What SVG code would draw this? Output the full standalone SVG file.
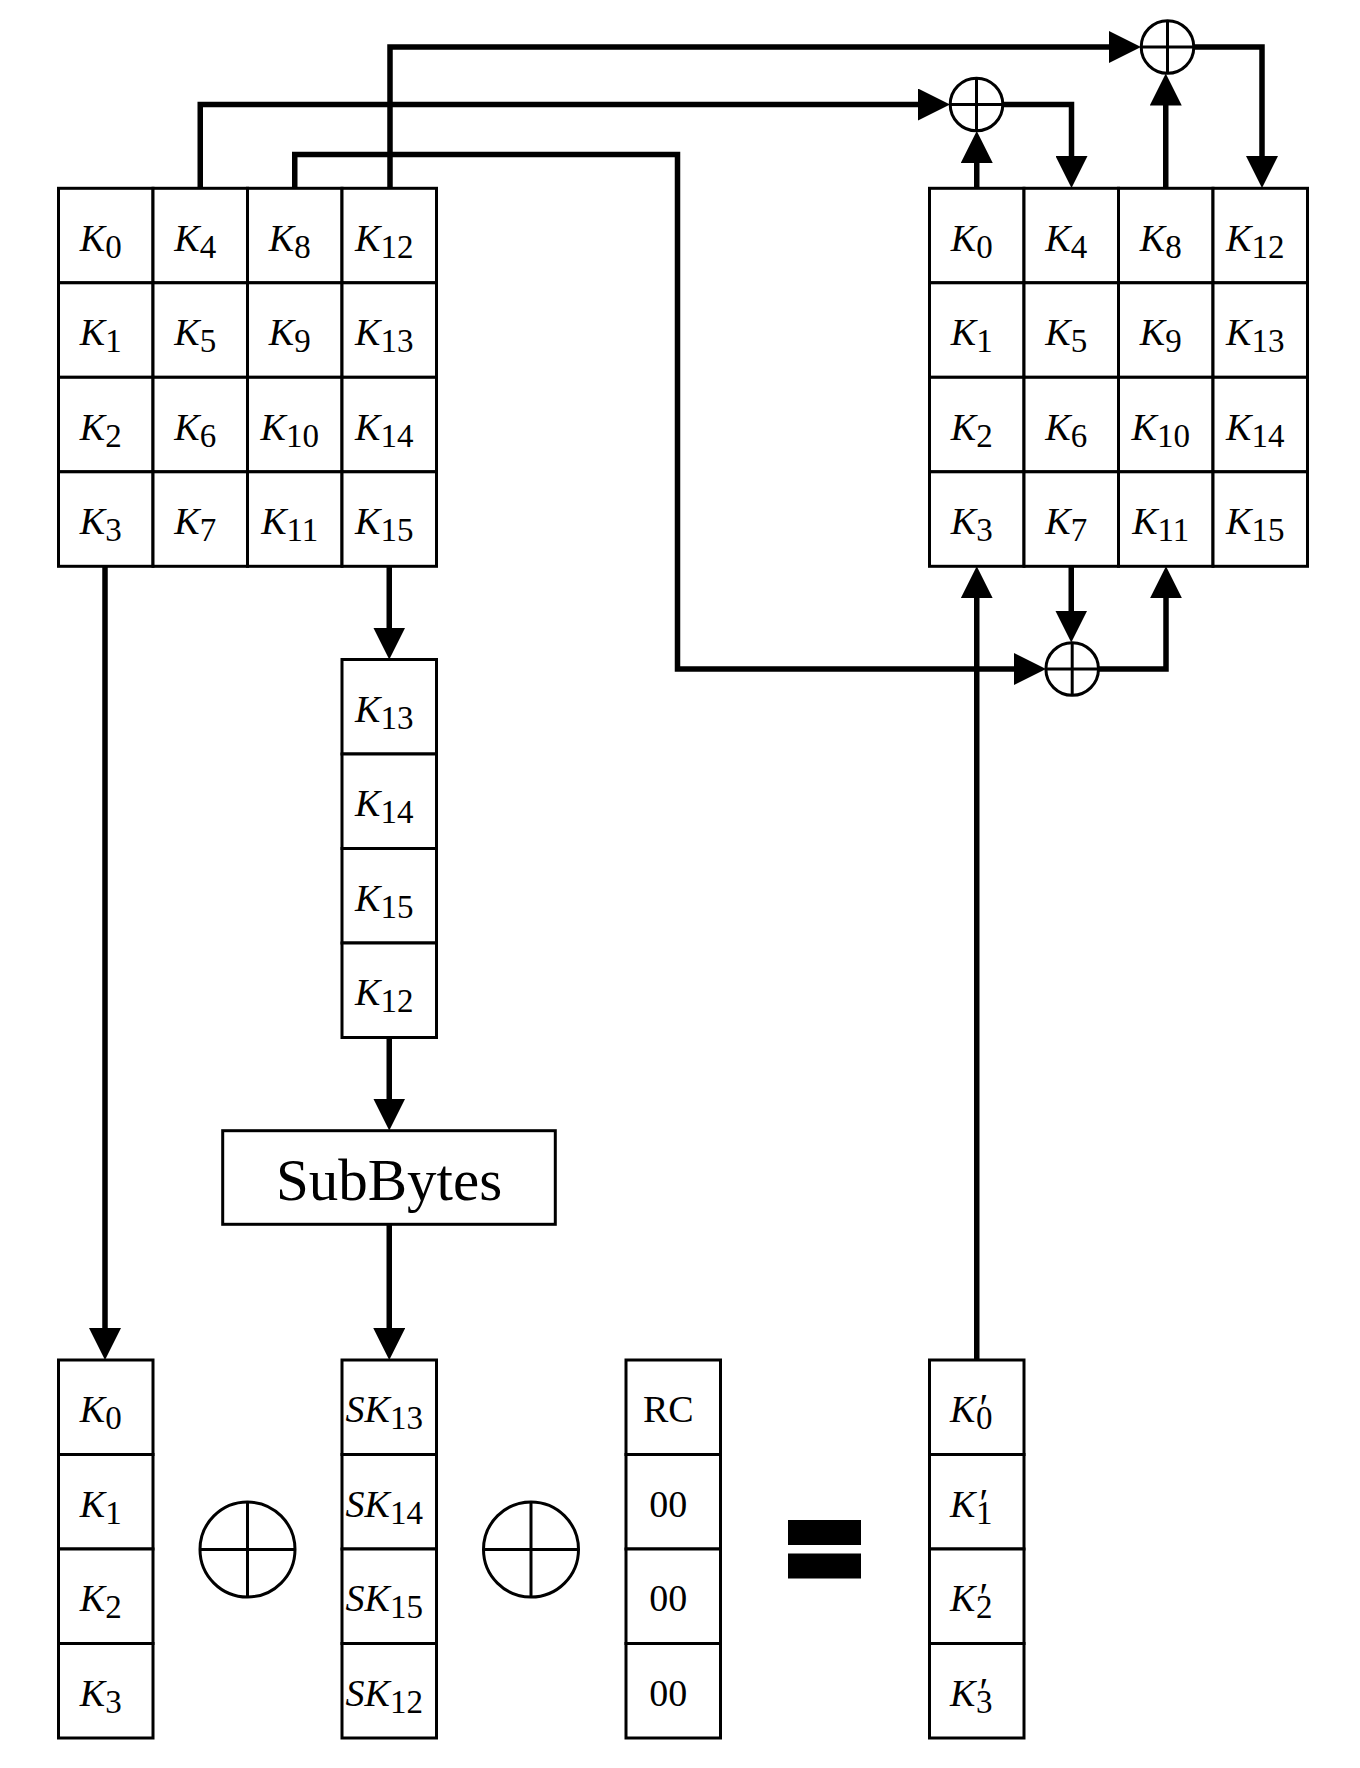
<svg xmlns="http://www.w3.org/2000/svg" width="1360" height="1768" viewBox="0 0 1360 1768">
<style>
.cell{fill:#fff;stroke:#000;stroke-width:3}
.k{font-family:"Liberation Serif","DejaVu Serif",serif;font-size:38px;font-style:italic;fill:#000}
.sub{font-size:33px;font-style:normal}
.pr{font-size:40px;font-style:italic}
.up{font-family:"Liberation Serif","DejaVu Serif",serif;font-size:38px;fill:#000}
.conn{fill:none;stroke:#000;stroke-width:5.5;stroke-linejoin:miter}
.xor{fill:#fff;stroke:#000;stroke-width:3}
.xl{stroke:#000;stroke-width:3}
</style>
<defs>
<marker id="ah" markerUnits="userSpaceOnUse" markerWidth="32" markerHeight="32" viewBox="0 0 32 32" refX="22" refY="16" orient="auto">
<path d="M0,0 L32,16 L0,32 z" fill="#000"/>
</marker>
</defs>
<rect width="1360" height="1768" fill="#fff"/>

<g id="connectors">
<path class="conn" marker-end="url(#ah)" d="M200.25,188.3 V104.5 H940"/>
<path class="conn" marker-end="url(#ah)" d="M390,188.3 V47 H1131"/>
<path class="conn" marker-end="url(#ah)" d="M294.75,188.3 V154.5 H677.5 V669 H1036"/>
<path class="conn" marker-end="url(#ah)" d="M976.75,188.3 V141"/>
<path class="conn" marker-end="url(#ah)" d="M1003,104.5 H1071.5 V178"/>
<path class="conn" marker-end="url(#ah)" d="M1165.75,188.3 V83.5"/>
<path class="conn" marker-end="url(#ah)" d="M1194,47 H1262 V178"/>
<path class="conn" marker-end="url(#ah)" d="M1071.25,566.3 V632.5"/>
<path class="conn" marker-end="url(#ah)" d="M1098.5,669 H1166 V576.3"/>
<path class="conn" marker-end="url(#ah)" d="M976.75,1360 V576.3"/>
<path class="conn" marker-end="url(#ah)" d="M105,566.3 V1350"/>
<path class="conn" marker-end="url(#ah)" d="M389.25,566.3 V649.5"/>
<path class="conn" marker-end="url(#ah)" d="M389.25,1037.5 V1120.5"/>
<path class="conn" marker-end="url(#ah)" d="M389.25,1224 V1350"/>
</g>

<g id="xor-top-1">
<circle class="xor" cx="976.5" cy="104.5" r="26.3"/>
<line class="xl" x1="950.2" y1="104.5" x2="1002.8" y2="104.5"/>
<line class="xl" x1="976.5" y1="78.2" x2="976.5" y2="130.8"/>
</g>
<g id="xor-top-2">
<circle class="xor" cx="1167.5" cy="47" r="26.3"/>
<line class="xl" x1="1141.2" y1="47" x2="1193.8" y2="47"/>
<line class="xl" x1="1167.5" y1="20.7" x2="1167.5" y2="73.3"/>
</g>
<g id="xor-mid">
<circle class="xor" cx="1072.2" cy="669" r="26.3"/>
<line class="xl" x1="1045.9" y1="669" x2="1098.5" y2="669"/>
<line class="xl" x1="1072.2" y1="642.7" x2="1072.2" y2="695.3"/>
</g>

<g id="left-state">
<rect class="cell" x="58.5" y="188.3" width="94.5" height="94.5"/>
<rect class="cell" x="153" y="188.3" width="94.5" height="94.5"/>
<rect class="cell" x="247.5" y="188.3" width="94.5" height="94.5"/>
<rect class="cell" x="342" y="188.3" width="94.5" height="94.5"/>
<rect class="cell" x="58.5" y="282.8" width="94.5" height="94.5"/>
<rect class="cell" x="153" y="282.8" width="94.5" height="94.5"/>
<rect class="cell" x="247.5" y="282.8" width="94.5" height="94.5"/>
<rect class="cell" x="342" y="282.8" width="94.5" height="94.5"/>
<rect class="cell" x="58.5" y="377.3" width="94.5" height="94.5"/>
<rect class="cell" x="153" y="377.3" width="94.5" height="94.5"/>
<rect class="cell" x="247.5" y="377.3" width="94.5" height="94.5"/>
<rect class="cell" x="342" y="377.3" width="94.5" height="94.5"/>
<rect class="cell" x="58.5" y="471.8" width="94.5" height="94.5"/>
<rect class="cell" x="153" y="471.8" width="94.5" height="94.5"/>
<rect class="cell" x="247.5" y="471.8" width="94.5" height="94.5"/>
<rect class="cell" x="342" y="471.8" width="94.5" height="94.5"/>
<g text-anchor="middle">
<text class="k" x="100.75" y="250.5">K<tspan class="sub" dy="7">0</tspan></text>
<text class="k" x="195.25" y="250.5">K<tspan class="sub" dy="7">4</tspan></text>
<text class="k" x="289.75" y="250.5">K<tspan class="sub" dy="7">8</tspan></text>
<text class="k" x="384.25" y="250.5">K<tspan class="sub" dy="7">12</tspan></text>
<text class="k" x="100.75" y="345">K<tspan class="sub" dy="7">1</tspan></text>
<text class="k" x="195.25" y="345">K<tspan class="sub" dy="7">5</tspan></text>
<text class="k" x="289.75" y="345">K<tspan class="sub" dy="7">9</tspan></text>
<text class="k" x="384.25" y="345">K<tspan class="sub" dy="7">13</tspan></text>
<text class="k" x="100.75" y="439.5">K<tspan class="sub" dy="7">2</tspan></text>
<text class="k" x="195.25" y="439.5">K<tspan class="sub" dy="7">6</tspan></text>
<text class="k" x="289.75" y="439.5">K<tspan class="sub" dy="7">10</tspan></text>
<text class="k" x="384.25" y="439.5">K<tspan class="sub" dy="7">14</tspan></text>
<text class="k" x="100.75" y="534">K<tspan class="sub" dy="7">3</tspan></text>
<text class="k" x="195.25" y="534">K<tspan class="sub" dy="7">7</tspan></text>
<text class="k" x="289.75" y="534">K<tspan class="sub" dy="7">11</tspan></text>
<text class="k" x="384.25" y="534">K<tspan class="sub" dy="7">15</tspan></text>
</g>
</g>

<g id="right-state">
<rect class="cell" x="929.5" y="188.3" width="94.5" height="94.5"/>
<rect class="cell" x="1024" y="188.3" width="94.5" height="94.5"/>
<rect class="cell" x="1118.5" y="188.3" width="94.5" height="94.5"/>
<rect class="cell" x="1213" y="188.3" width="94.5" height="94.5"/>
<rect class="cell" x="929.5" y="282.8" width="94.5" height="94.5"/>
<rect class="cell" x="1024" y="282.8" width="94.5" height="94.5"/>
<rect class="cell" x="1118.5" y="282.8" width="94.5" height="94.5"/>
<rect class="cell" x="1213" y="282.8" width="94.5" height="94.5"/>
<rect class="cell" x="929.5" y="377.3" width="94.5" height="94.5"/>
<rect class="cell" x="1024" y="377.3" width="94.5" height="94.5"/>
<rect class="cell" x="1118.5" y="377.3" width="94.5" height="94.5"/>
<rect class="cell" x="1213" y="377.3" width="94.5" height="94.5"/>
<rect class="cell" x="929.5" y="471.8" width="94.5" height="94.5"/>
<rect class="cell" x="1024" y="471.8" width="94.5" height="94.5"/>
<rect class="cell" x="1118.5" y="471.8" width="94.5" height="94.5"/>
<rect class="cell" x="1213" y="471.8" width="94.5" height="94.5"/>
<g text-anchor="middle">
<text class="k" x="971.75" y="250.5">K<tspan class="sub" dy="7">0</tspan></text>
<text class="k" x="1066.25" y="250.5">K<tspan class="sub" dy="7">4</tspan></text>
<text class="k" x="1160.75" y="250.5">K<tspan class="sub" dy="7">8</tspan></text>
<text class="k" x="1255.25" y="250.5">K<tspan class="sub" dy="7">12</tspan></text>
<text class="k" x="971.75" y="345">K<tspan class="sub" dy="7">1</tspan></text>
<text class="k" x="1066.25" y="345">K<tspan class="sub" dy="7">5</tspan></text>
<text class="k" x="1160.75" y="345">K<tspan class="sub" dy="7">9</tspan></text>
<text class="k" x="1255.25" y="345">K<tspan class="sub" dy="7">13</tspan></text>
<text class="k" x="971.75" y="439.5">K<tspan class="sub" dy="7">2</tspan></text>
<text class="k" x="1066.25" y="439.5">K<tspan class="sub" dy="7">6</tspan></text>
<text class="k" x="1160.75" y="439.5">K<tspan class="sub" dy="7">10</tspan></text>
<text class="k" x="1255.25" y="439.5">K<tspan class="sub" dy="7">14</tspan></text>
<text class="k" x="971.75" y="534">K<tspan class="sub" dy="7">3</tspan></text>
<text class="k" x="1066.25" y="534">K<tspan class="sub" dy="7">7</tspan></text>
<text class="k" x="1160.75" y="534">K<tspan class="sub" dy="7">11</tspan></text>
<text class="k" x="1255.25" y="534">K<tspan class="sub" dy="7">15</tspan></text>
</g>
</g>

<g id="rotword">
<rect class="cell" x="342" y="659.5" width="94.5" height="94.5"/>
<rect class="cell" x="342" y="754" width="94.5" height="94.5"/>
<rect class="cell" x="342" y="848.5" width="94.5" height="94.5"/>
<rect class="cell" x="342" y="943" width="94.5" height="94.5"/>
<g text-anchor="middle">
<text class="k" x="384.25" y="721.75">K<tspan class="sub" dy="7">13</tspan></text>
<text class="k" x="384.25" y="816.25">K<tspan class="sub" dy="7">14</tspan></text>
<text class="k" x="384.25" y="910.75">K<tspan class="sub" dy="7">15</tspan></text>
<text class="k" x="384.25" y="1005.25">K<tspan class="sub" dy="7">12</tspan></text>
</g>
</g>

<g id="subbytes">
<rect class="cell" x="222.7" y="1130.7" width="332.6" height="93.6"/>
<text class="up" x="389" y="1200" style="font-size:59px" text-anchor="middle">SubBytes</text>
</g>

<g id="col-k">
<rect class="cell" x="58.5" y="1360" width="94.5" height="94.5"/>
<rect class="cell" x="58.5" y="1454.5" width="94.5" height="94.5"/>
<rect class="cell" x="58.5" y="1549" width="94.5" height="94.5"/>
<rect class="cell" x="58.5" y="1643.5" width="94.5" height="94.5"/>
<g text-anchor="middle">
<text class="k" x="100.75" y="1422.25">K<tspan class="sub" dy="7">0</tspan></text>
<text class="k" x="100.75" y="1516.75">K<tspan class="sub" dy="7">1</tspan></text>
<text class="k" x="100.75" y="1611.25">K<tspan class="sub" dy="7">2</tspan></text>
<text class="k" x="100.75" y="1705.75">K<tspan class="sub" dy="7">3</tspan></text>
</g>
</g>

<g id="xor-big-1">
<circle class="xor" cx="247.5" cy="1549.5" r="47.5"/>
<line class="xl" x1="200" y1="1549.5" x2="295" y2="1549.5"/>
<line class="xl" x1="247.5" y1="1502" x2="247.5" y2="1597"/>
</g>

<g id="col-sk">
<rect class="cell" x="342" y="1360" width="94.5" height="94.5"/>
<rect class="cell" x="342" y="1454.5" width="94.5" height="94.5"/>
<rect class="cell" x="342" y="1549" width="94.5" height="94.5"/>
<rect class="cell" x="342" y="1643.5" width="94.5" height="94.5"/>
<g text-anchor="middle">
<text class="k" x="384.25" y="1422.25">SK<tspan class="sub" dy="7">13</tspan></text>
<text class="k" x="384.25" y="1516.75">SK<tspan class="sub" dy="7">14</tspan></text>
<text class="k" x="384.25" y="1611.25">SK<tspan class="sub" dy="7">15</tspan></text>
<text class="k" x="384.25" y="1705.75">SK<tspan class="sub" dy="7">12</tspan></text>
</g>
</g>

<g id="xor-big-2">
<circle class="xor" cx="531" cy="1549.5" r="47.5"/>
<line class="xl" x1="483.5" y1="1549.5" x2="578.5" y2="1549.5"/>
<line class="xl" x1="531" y1="1502" x2="531" y2="1597"/>
</g>

<g id="col-rc">
<rect class="cell" x="626" y="1360" width="94.5" height="94.5"/>
<rect class="cell" x="626" y="1454.5" width="94.5" height="94.5"/>
<rect class="cell" x="626" y="1549" width="94.5" height="94.5"/>
<rect class="cell" x="626" y="1643.5" width="94.5" height="94.5"/>
<g text-anchor="middle">
<text class="up" x="668.25" y="1422.25">RC</text>
<text class="up" x="668.25" y="1516.75">00</text>
<text class="up" x="668.25" y="1611.25">00</text>
<text class="up" x="668.25" y="1705.75">00</text>
</g>
</g>

<g id="equals">
<rect x="788" y="1520" width="73" height="25" fill="#000"/>
<rect x="788" y="1553.5" width="73" height="25" fill="#000"/>
</g>

<g id="col-kprime">
<rect class="cell" x="929.5" y="1360" width="94.5" height="94.5"/>
<rect class="cell" x="929.5" y="1454.5" width="94.5" height="94.5"/>
<rect class="cell" x="929.5" y="1549" width="94.5" height="94.5"/>
<rect class="cell" x="929.5" y="1643.5" width="94.5" height="94.5"/>
<text class="k" x="950" y="1422.25">K<tspan class="pr" x="977" dy="-1">′</tspan><tspan class="sub" x="976" dy="8">0</tspan></text>
<text class="k" x="950" y="1516.75">K<tspan class="pr" x="977" dy="-1">′</tspan><tspan class="sub" x="976" dy="8">1</tspan></text>
<text class="k" x="950" y="1611.25">K<tspan class="pr" x="977" dy="-1">′</tspan><tspan class="sub" x="976" dy="8">2</tspan></text>
<text class="k" x="950" y="1705.75">K<tspan class="pr" x="977" dy="-1">′</tspan><tspan class="sub" x="976" dy="8">3</tspan></text>
</g>
</svg>
